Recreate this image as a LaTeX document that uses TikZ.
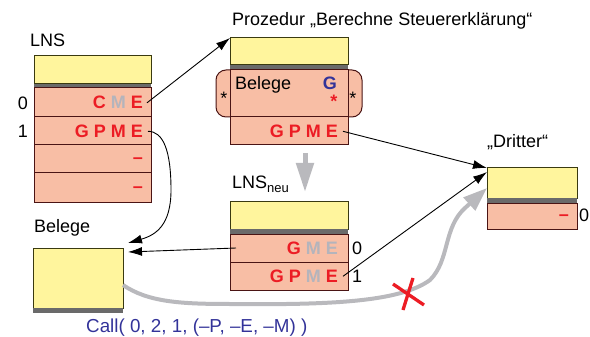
\documentclass[tikz,border=0pt]{standalone}
\usepackage{fontspec}
\setmainfont{Liberation Sans}
\usetikzlibrary{arrows.meta}
\definecolor{yel}{HTML}{FFF59D}
\definecolor{salmon}{HTML}{F8BEA5}
\definecolor{rowline}{HTML}{4A1414}
\definecolor{yelline}{HTML}{3A3A10}
\definecolor{stripgray}{HTML}{6A6A6A}
\definecolor{hot}{HTML}{EC1C24}
\definecolor{faint}{HTML}{B4B4BC}
\definecolor{ink}{HTML}{333399}
\definecolor{flowgray}{HTML}{B9B9BD}

\begin{document}
\begin{tikzpicture}[x=1pt,y=-1pt,
  font=\fontsize{18}{21}\selectfont,
  cell/.style={draw, line width=1pt, inner sep=0pt, outer sep=0pt, anchor=north west},
  head/.style={cell, fill=yel, draw=yelline},
  bar/.style={fill=stripgray, inner sep=0pt, outer sep=0pt, anchor=north west},
  entry/.style={cell, fill=salmon, draw=rowline},
  tag/.style={inner sep=0pt, anchor=base west},
  num/.style={inner sep=0pt, anchor=base},
  bits/.style={inner sep=0pt, anchor=base east, font=\fontsize{18}{21}\selectfont\bfseries, text=hot},
  star/.style={inner sep=0pt, anchor=base},
  link/.style={line width=0.9pt, -{Latex[length=14pt,width=9pt]}},
]
\useasboundingbox (0,0) rectangle (590,337);

% ---- LNS ----
\node[tag] (lnsT) at (30,46.5) {LNS};
\node[head, minimum width=117, minimum height=28] (lnsH) at (34,56) {};
\node[bar, minimum width=117, minimum height=4] (lnsS) at (34,84) {};
\node[entry, minimum width=117, minimum height=29] (lns0) at (34,88) {};
\node[entry, minimum width=117, minimum height=28] (lns1) at (34,117) {};
\node[entry, minimum width=117, minimum height=28] (lns2) at (34,145) {};
\node[entry, minimum width=117, minimum height=29] (lns3) at (34,173) {};
\node[bits] (lt0) at (143,109) {C \textcolor{faint}{M} E};
\node[bits] (lt1) at (143,137.5) {G P M E};
\node[bits] (lt2) at (143,164) {–};
\node[bits] (lt3) at (143,193) {–};
\node[num] (ln0) at (23,110) {0};
\node[num] (ln1) at (23,138) {1};

% ---- procedure ----
\node[tag] (procT) at (232,26) {Prozedur „Berechne Steuererklärung“};
\draw[rounded corners=10pt, fill=salmon, draw=rowline, line width=1pt] (216,70) rectangle (362,117);
\node[head, minimum width=118, minimum height=27] (procH) at (230,38) {};
\node[bar, minimum width=118, minimum height=5] (procS) at (230,65) {};
\node[entry, minimum width=118, minimum height=47] (procB) at (230,70) {};
\node[entry, minimum width=118, minimum height=28] (procR) at (230,117) {};
\node[tag] (procBT) at (235,90) {Belege};
\node[bits, text=ink] (procG) at (337,90) {G};
\node[star, text=hot, font=\fontsize{18}{18}\selectfont\bfseries] (procRS) at (334,108) {*};
\node[star] (procLS) at (224,105) {*};
\node[star] (procRS2) at (353,105) {*};
\node[bits] (pt) at (338,137.5) {G P M E};

% ---- LNS neu ----
\node[tag] (neuT) at (232,188) {LNS{\fontsize{13}{13}\selectfont\raisebox{-5pt}{neu}}};
\node[head, minimum width=118, minimum height=28] (neuH) at (230,201) {};
\node[bar, minimum width=118, minimum height=5] (neuS) at (230,229) {};
\node[entry, minimum width=118, minimum height=28] (neu0) at (230,234) {};
\node[entry, minimum width=118, minimum height=28] (neu1) at (230,262) {};
\node[bits] (nt0) at (338,254.5) {G \textcolor{faint}{M E}};
\node[bits] (nt1) at (338,282.5) {G P \textcolor{faint}{M} E};
\node[tag] (nn0) at (352,254.5) {0};
\node[tag] (nn1) at (352,282.5) {1};

% ---- Dritter ----
\node[tag] (dritT) at (487,147) {„Dritter“};
\node[head, minimum width=90, minimum height=30] (drit) at (487,168) {};
\node[bar, minimum width=90, minimum height=5] (dritS) at (487,198) {};
\node[entry, minimum width=90, minimum height=26] (drit0) at (487,203) {};
\node[bits] (dt0) at (569,220) {–};
\node[tag] (dn0) at (579,221.5) {0};

% ---- Belege ----
\node[tag] (belT) at (34,233) {Belege};
\node[head, minimum width=90, minimum height=60] (bel) at (33,248) {};
\node[bar, minimum width=90, minimum height=5] (belS) at (33,308) {};
\node[tag, text=ink, font=\fontsize{18.8}{21}\selectfont] (call) at (86,332) {Call( 0, 2, 1, (–P, –E, –M) )};

% ---- connectors ----
\draw[link] ([xshift=4pt]lt0.east) -- (procH.north west);
\coordinate (bend) at (171,190);
\draw[link] ([xshift=5pt]lt1.east) .. controls +(15,0) and +(0,-40) .. (bend)
  .. controls +(0,35) and +(28,-8) .. ([shift={(5,-5)}]bel.north east);
\draw[link] ([xshift=6pt]neu0.west) -- ([shift={(5,4)}]bel.north east);
\draw[link] ([xshift=5pt]pt.east) -- (drit.north west);
\draw[link] ([xshift=5pt]nt1.east) -- ([shift={(0,4)}]drit.north west);

% gray step arrow between the two states
\draw[flowgray, line width=5pt, -{Triangle[length=29pt,width=17pt]}]
  ([shift={(16,8)}]procR.south) -- ([shift={(16,-9)}]neuH.north);

% the call that does not reach the third party
\coordinate (g1) at (230,304);
\coordinate (g2) at (430,280);
\coordinate (g3) at (465,208);
\draw[flowgray, line width=4pt, -{Triangle[length=24pt,width=17pt]}]
  ([shift={(0,7)}]bel.east) .. controls +(25,17) and +(-50,0) .. (g1)
  .. controls +(100,1) and +(-30,22) .. (g2)
  .. controls +(20,-20) and +(-22,20) .. (g3)
  -- ([shift={(0,20)}]drit.north west);
\coordinate (x0) at (408,295);
\draw[hot, line width=3.3pt] ([shift={(-15,-11)}]x0) -- ([shift={(16,10)}]x0);
\draw[hot, line width=3.3pt] ([shift={(5,-17)}]x0) -- ([shift={(-5,15)}]x0);
\end{tikzpicture}
\end{document}
